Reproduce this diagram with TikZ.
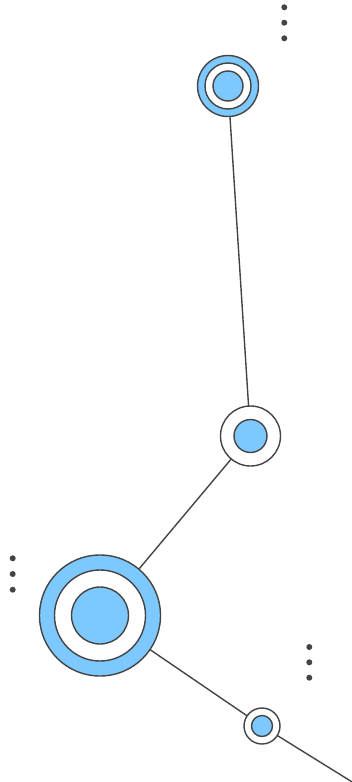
\documentclass[tikz,border=0pt]{standalone}
\definecolor{nodeblue}{RGB}{125,200,255}
\definecolor{ink}{RGB}{68,68,68}
\tikzset{
  ring/.style={circle,draw=ink,line width=1.4pt,inner sep=0pt,outer sep=0pt},
  bluering/.style={ring,fill=nodeblue},
  whitering/.style={ring,fill=white},
  link/.style={draw=ink,line width=1.4pt},
  dot/.style={circle,fill=ink,inner sep=0pt,minimum size=6pt}
}
\begin{document}
\begin{tikzpicture}[x=1pt,y=-1pt]
\useasboundingbox (0,0) rectangle (351,782);
% node 1
\node[bluering,minimum size=61pt] (n1) at (228,86) {};
\node[whitering,minimum size=46pt] (n1w) at (228,86) {};
\node[bluering,minimum size=30pt] (n1c) at (228,86) {};
% node 2
\node[whitering,minimum size=60pt] (n2) at (250.5,436) {};
\node[bluering,minimum size=33pt] (n2c) at (250.5,436) {};
% node 3
\node[bluering,minimum size=121pt] (n3) at (100,615.5) {};
\node[whitering,minimum size=91pt] (n3w) at (100,615.5) {};
\node[bluering,minimum size=57pt] (n3c) at (100,615.5) {};
% node 4
\node[whitering,minimum size=36pt] (n4) at (262,726) {};
\node[bluering,minimum size=21pt] (n4c) at (262,726) {};
\coordinate (end) at (353,782.5);
% links
\draw[link] (n1) -- (n2);
\draw[link] (n2) -- (n3);
\draw[link] (n3) -- (n4);
\draw[link] (n4) -- (end);
% dots
\node[dot] (d1) at (284.3,7.3) {};
\node[dot] (d2) at (284.3,22.7) {};
\node[dot] (d3) at (284.3,38.3) {};
\node[dot] (d4) at (12.7,558.3) {};
\node[dot] (d5) at (12.7,574) {};
\node[dot] (d6) at (12.7,589.7) {};
\node[dot] (d7) at (309.3,647) {};
\node[dot] (d8) at (309.3,662.3) {};
\node[dot] (d9) at (309.3,677.7) {};
\end{tikzpicture}
\end{document}
